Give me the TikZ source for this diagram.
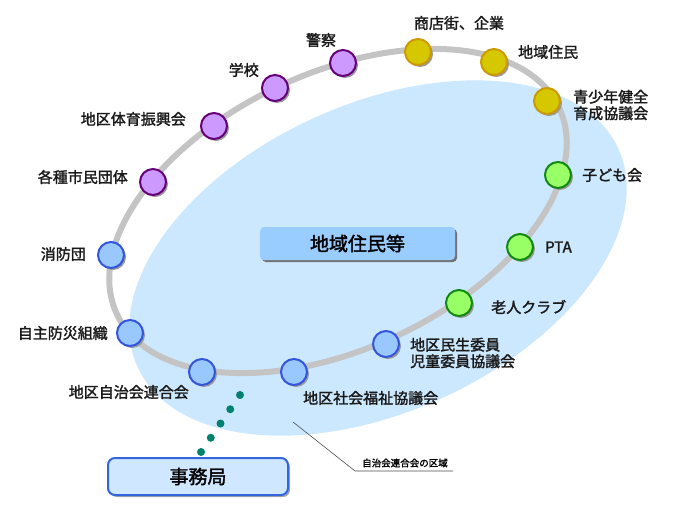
\documentclass[tikz,border=0pt]{standalone}
\usepackage{fontspec}
\setmainfont{Noto Sans CJK JP}[FakeBold=1.8]
\usetikzlibrary{shadows,calc}
\definecolor{areablue}{HTML}{CCE8FF}
\definecolor{hubblue}{HTML}{99CCFF}
\definecolor{officeblue}{HTML}{D0E8FF}
\definecolor{officeline}{HTML}{3366DD}
\definecolor{ringgray}{HTML}{C4C4C4}
\definecolor{dotteal}{HTML}{00806E}
\definecolor{pfill}{HTML}{CC99FF}
\definecolor{pline}{HTML}{660077}
\definecolor{yfill}{HTML}{D6C800}
\definecolor{yline}{HTML}{CC9900}
\definecolor{gfill}{HTML}{99FF66}
\definecolor{gline}{HTML}{118811}
\definecolor{bfill}{HTML}{99C8FF}
\definecolor{bline}{HTML}{3355DD}
\tikzset{member/.style = {circle, minimum size=26pt, inner sep=0pt, line width=2pt,
                          drop shadow={shadow xshift=2pt, shadow yshift=-2pt, fill=black!40, opacity=1}},
         pmember/.style = {member, fill=pfill, draw=pline},
         ymember/.style = {member, fill=yfill, draw=yline},
         gmember/.style = {member, fill=gfill, draw=gline},
         bmember/.style = {member, fill=bfill, draw=bline},
         lbl/.style = {font=\fontsize{15}{16.5}\selectfont, text=black!90, inner sep=0pt, align=left},
         hubbox/.style = {fill=hubblue, rounded corners=4pt, minimum width=195pt, minimum height=33pt,
                          drop shadow={shadow xshift=2pt, shadow yshift=-2pt, fill=black!55, opacity=1},
                          font=\fontsize{19}{20}\selectfont},
         officebox/.style = {fill=officeblue, draw=officeline, line width=2pt, rounded corners=7pt,
                             minimum width=180pt, minimum height=37pt,
                             drop shadow={shadow xshift=2pt, shadow yshift=-2pt, fill=black!35, opacity=1},
                             font=\fontsize{19}{20}\selectfont}}

\begin{document}
\begin{tikzpicture}[x=1pt, y=-1pt]
  \useasboundingbox (0,0) rectangle (691,504);
  \fill[areablue] (378,258) ellipse [x radius=264pt, y radius=154pt, rotate=24.4];
  \coordinate (areapt) at (293,422);
  \coordinate (bend) at (355,471);
  \coordinate (noteend) at (453,471);
  \draw[black!70, line width=0.6pt] (areapt) -- (bend) -- (noteend);
  \node[font=\fontsize{9.5}{10}\selectfont, inner sep=0pt] (areanote) at (405,463) {自治会連合会の区域};
  \draw[ringgray, line width=6pt] (338,211) ellipse [x radius=244pt, y radius=138pt, rotate=25];
  \node[hubbox] (hub) at (357.5,243.5) {地域住民等};

  \node[pmember] (kakushu) at (153,182) {};
  \node[pmember] (taiiku) at (214,126) {};
  \node[pmember] (gakko) at (275,88) {};
  \node[pmember] (keisatsu) at (343,63) {};
  \node[ymember] (shoten) at (418,52) {};
  \node[ymember] (jumin) at (494,62) {};
  \node[ymember] (seishonen) at (547,101) {};
  \node[gmember] (kodomo) at (558,175) {};
  \node[gmember] (pta) at (520,247) {};
  \node[gmember] (rojin) at (459,303) {};
  \node[bmember] (minsei) at (386,344) {};
  \node[bmember] (fukushi) at (294,372) {};
  \node[bmember] (rengo) at (202,372) {};
  \node[bmember] (bosai) at (130,333) {};
  \node[bmember] (shobo) at (111,255) {};

  \node[lbl, anchor=east] (l-kakushu) at (128,177) {各種市民団体};
  \node[lbl, anchor=east] (l-taiiku) at (186,119) {地区体育振興会};
  \node[lbl, anchor=east] (l-gakko) at (259,70) {学校};
  \node[lbl] (l-keisatsu) at (321,40) {警察};
  \node[lbl] (l-shoten) at (459,23) {商店街、企業};
  \node[lbl, anchor=west] (l-jumin) at (518,52) {地域住民};
  \node[lbl, anchor=west] (l-seishonen) at (573,105) {青少年健全\\育成協議会};
  \node[lbl, anchor=west] (l-kodomo) at (582,175) {子ども会};
  \node[lbl, anchor=west] (l-pta) at (545,247) {PTA};
  \node[lbl, anchor=west] (l-rojin) at (491,307) {老人クラブ};
  \node[lbl, anchor=west] (l-minsei) at (410,353) {地区民生委員\\児童委員協議会};
  \node[lbl, anchor=west] (l-fukushi) at (303,398) {地区社会福祉協議会};
  \node[lbl, anchor=east] (l-rengo) at (189,392) {地区自治会連合会};
  \node[lbl, anchor=east] (l-bosai) at (108,333) {自主防災組織};
  \node[lbl, anchor=east] (l-shobo) at (86,254) {消防団};

  \node[officebox] (office) at (198,476.5) {事務局};
  \coordinate (dotA) at (201,452);
  \coordinate (dotB) at (240,395);
  \foreach \t in {0,0.25,0.5,0.75,1}
    \fill[dotteal] ($(dotA)!\t!(dotB)$) circle (4pt);
\end{tikzpicture}
\end{document}
